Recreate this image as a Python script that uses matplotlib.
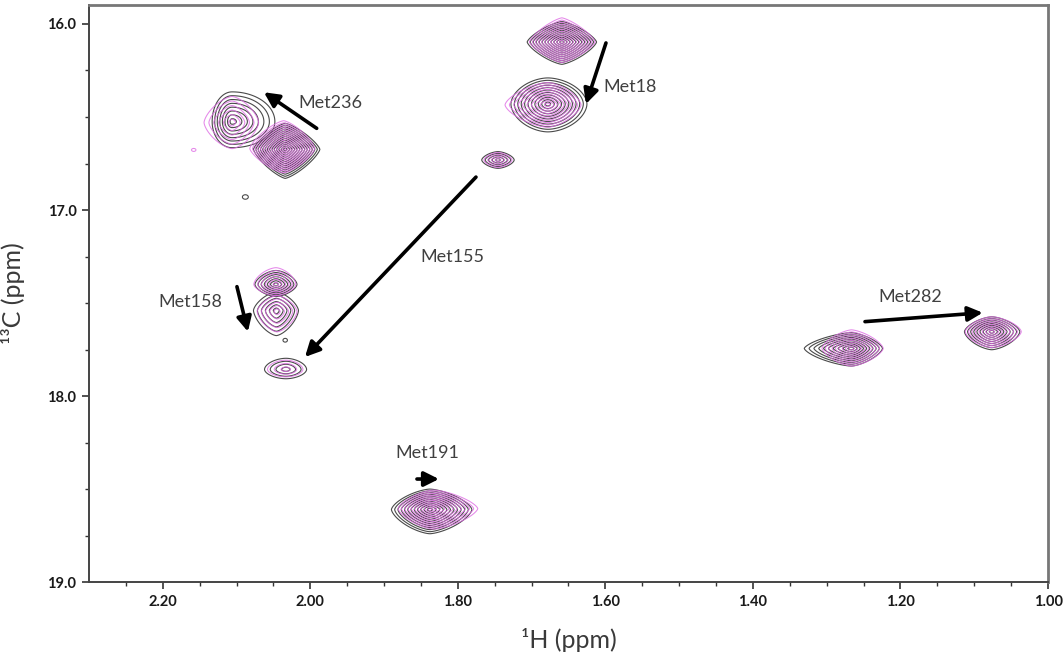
import matplotlib
matplotlib.use("Agg")
import matplotlib.pyplot as plt
import numpy as np

plt.rcParams['font.family'] = ['Lato', 'DejaVu Sans']

# peak table, 1H / 13C in ppm
peak_h = [1.659, 1.678, 2.106, 2.034, 2.088, 2.158, 2.0465, 2.046, 2.034, 2.033, 1.7456, 1.838, 1.2664, 1.0763]
peak_c = [16.097, 16.43, 16.525, 16.674, 16.93, 16.677, 17.40, 17.54, 17.70, 17.857, 16.731, 18.61, 17.744, 17.654]

# black spectrum: half widths (left/right in 1H, up/down in 13C), shape, number of contours
blk_wl = [0.047, 0.050, 0.027, 0.043, 0.004, 0.0, 0.0285, 0.031, 0.003, 0.029, 0.022, 0.052, 0.064, 0.037]
blk_wr = [0.047, 0.053, 0.058, 0.047, 0.004, 0.0, 0.0285, 0.030, 0.003, 0.028, 0.022, 0.057, 0.042, 0.038]
blk_hu = [0.110, 0.140, 0.160, 0.140, 0.012, 0.0, 0.075, 0.100, 0.010, 0.060, 0.045, 0.110, 0.085, 0.080]
blk_hd = [0.120, 0.150, 0.140, 0.156, 0.012, 0.0, 0.065, 0.135, 0.010, 0.050, 0.045, 0.130, 0.095, 0.097]
blk_q = [1.35, 1.8, 2.0, 1.3, 2.0, 2.0, 1.6, 1.5, 2.0, 1.8, 1.6, 1.5, 1.45, 1.55]
blk_n = [12, 11, 8, 14, 1, 0, 7, 6, 1, 4, 5, 12, 10, 9]

# magenta spectrum
mag_dh = [0.0, 0.0, 0.0, 0.002, 0.0, 0.0, 0.0, -0.001, 0.0, 0.0, 0.0, -0.005, 0.0, 0.0]
mag_dc = [0.0, 0.005, 0.005, -0.004, 0.0, 0.0, 0.0, 0.005, 0.0, 0.0, 0.0, -0.005, 0.0, 0.0]
mag_wl = [0.044, 0.058, 0.038, 0.046, 0.0, 0.003, 0.030, 0.027, 0.0, 0.025, 0.019, 0.048, 0.040, 0.036]
mag_wr = [0.045, 0.045, 0.036, 0.042, 0.0, 0.003, 0.027, 0.027, 0.0, 0.023, 0.019, 0.060, 0.043, 0.040]
mag_hu = [0.130, 0.120, 0.140, 0.150, 0.0, 0.008, 0.090, 0.085, 0.0, 0.050, 0.040, 0.100, 0.100, 0.080]
mag_hd = [0.110, 0.120, 0.140, 0.130, 0.0, 0.008, 0.060, 0.110, 0.0, 0.040, 0.040, 0.110, 0.095, 0.085]
mag_q = [1.3, 1.5, 1.5, 1.35, 2.0, 2.0, 1.6, 1.5, 2.0, 1.8, 1.6, 1.45, 1.45, 1.55]
mag_n = [11, 10, 6, 13, 0, 1, 6, 5, 0, 3, 4, 11, 9, 8]

# assignment arrows (tail -> head) and labels
arrow_names = ['Met18', 'Met236', 'Met158', 'Met155', 'Met191', 'Met282']
arrow_tail = [(1.5992, 16.102), (1.9913, 16.561), (2.0994, 17.412), (1.7754, 16.823), (1.8554, 18.446), (1.2481, 17.600)]
arrow_head = [(1.6263, 16.430), (2.0628, 16.367), (2.0845, 17.654), (2.0072, 17.790), (1.8256, 18.446), (1.0885, 17.552)]
label_pos = [(1.5666, 16.339), (1.973, 16.425), (2.163, 17.495), (1.808, 17.253), (1.842, 18.306), (1.187, 17.468)]


def draw_peak(ax, h0, c0, wl, wr, hu, hd, q, n, color, lw, z, alpha=1.0):
    if n <= 0:
        return
    hs = np.linspace(h0 - 1.3 * wr, h0 + 1.3 * wl, 260)
    cs = np.linspace(c0 - 1.3 * hu, c0 + 1.3 * hd, 260)
    H, C = np.meshgrid(hs, cs)
    dh = H - h0
    dc = C - c0
    a = np.where(dh > 0, wl, wr)
    b = np.where(dc > 0, hd, hu)
    r = (np.abs(dh / a) ** q + np.abs(dc / b) ** q) ** (1.0 / q)
    if n == 1:
        levels = [1.0]
    else:
        levels = np.linspace(0.8 / n, 1.0, n)
    ax.contour(H, C, r, levels=levels, colors=color, linewidths=lw, zorder=z, alpha=alpha)


fig = plt.figure(figsize=(10.64, 6.57), dpi=100)
ax = fig.add_axes([0.0836, 0.114, 0.9014, 0.8784])

for i in range(len(peak_h)):
    draw_peak(ax, peak_h[i], peak_c[i], blk_wl[i], blk_wr[i], blk_hu[i], blk_hd[i],
              blk_q[i], blk_n[i], '#4a4a4a', 0.8, 2)
for i in range(len(peak_h)):
    draw_peak(ax, peak_h[i] + mag_dh[i], peak_c[i] + mag_dc[i], mag_wl[i], mag_wr[i],
              mag_hu[i], mag_hd[i], mag_q[i], mag_n[i], '#de6ae4', 0.75, 3, 0.8)

for name, t, hd_, lp in zip(arrow_names, arrow_tail, arrow_head, label_pos):
    ax.annotate('', xy=hd_, xytext=t,
                arrowprops=dict(arrowstyle='-|>', color='black', lw=2.6,
                                mutation_scale=22, shrinkA=0, shrinkB=0), zorder=5)
    ax.text(lp[0], lp[1], name, ha='center', va='center', fontsize=13, color='#404040')

ax.set_xlim(2.30, 1.00)
ax.set_ylim(19.0, 15.898)
ax.set_xticks(np.arange(2.20, 0.99, -0.2))
ax.set_xticklabels(['%.2f' % v for v in np.arange(2.20, 0.99, -0.2)])
ax.set_xticks(np.arange(2.25, 1.0, -0.05), minor=True)
ax.set_yticks([16.0, 17.0, 18.0, 19.0])
ax.set_yticklabels(['16.0', '17.0', '18.0', '19.0'])
ax.set_yticks(np.arange(16.25, 19.0, 0.25), minor=True)

ax.tick_params(axis='both', which='major', direction='out', length=5, width=1.2,
               colors='#333333', labelsize=10.5, pad=4)
ax.tick_params(axis='both', which='minor', direction='out', length=3, width=1.0, colors='#333333')
for lab in ax.get_xticklabels() + ax.get_yticklabels():
    lab.set_fontweight('bold')
    lab.set_color('#1a1a1a')

for side in ['left', 'bottom']:
    ax.spines[side].set_color('#444444')
    ax.spines[side].set_linewidth(1.4)
for side in ['top', 'right']:
    ax.spines[side].set_color('#777777')
    ax.spines[side].set_linewidth(2.0)

ax.set_xlabel('\u00b9H (ppm)', fontsize=18, color='#3a3a3a', labelpad=14)
ax.set_ylabel('\u00b9\u00b3C (ppm)', fontsize=18, color='#3a3a3a', labelpad=16)

fig.savefig('out.png', dpi=100)
